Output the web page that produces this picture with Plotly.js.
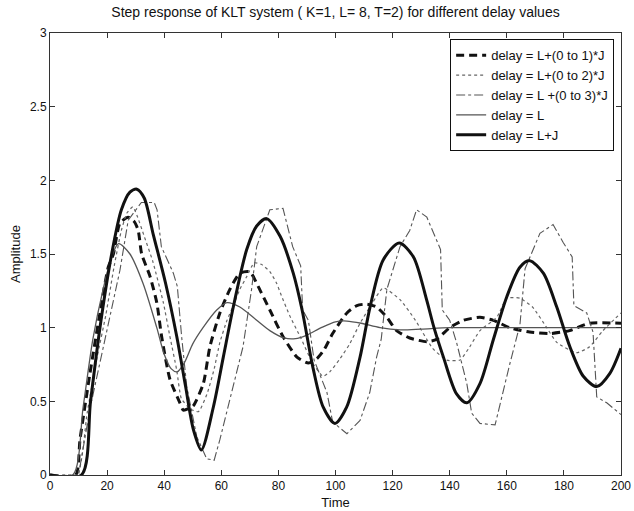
<!DOCTYPE html>
<html>
<head>
<meta charset="utf-8">
<script src="https://cdn.plot.ly/plotly-3.0.1.min.js"></script>
<style>html,body{margin:0;padding:0;background:#fff;}#chart{width:634px;height:511px;}</style>
</head>
<body>
<div id="chart"></div>
<script>
// Series names
var seriesNames = ["delay = L+(0 to 1)*J", "delay = L+(0 to 2)*J", "delay = L +(0 to 3)*J", "delay = L", "delay = L+J"];

// delay = L+(0 to 1)*J  (thick dashed)
var tD1 = [0, 9, 10.5, 14, 17.5, 20.4, 22.2, 24.5, 27.4, 29.5, 30.9, 32.1, 35, 37.4, 39.1, 42, 45.5, 46.7, 48.5, 50.2, 53.7, 56, 59.5, 63, 66.5, 70, 72.9, 77, 81.6, 86.5, 90.5, 93.5, 96, 99, 104, 107.5, 111, 114.4, 118, 121.4, 126, 132, 135.4, 140, 144.8, 150.6, 155.3, 161, 168, 175, 182, 189, 200];
var yD1 = [0, 0, 0.24, 0.69, 1.1, 1.41, 1.5, 1.71, 1.75, 1.72, 1.66, 1.5, 1.35, 1.17, 0.94, 0.65, 0.49, 0.44, 0.45, 0.47, 0.62, 0.87, 1.1, 1.26, 1.37, 1.38, 1.28, 1.12, 0.94, 0.8, 0.76, 0.79, 0.85, 0.96, 1.1, 1.15, 1.16, 1.14, 1.07, 0.98, 0.93, 0.905, 0.92, 1.0, 1.05, 1.07, 1.05, 1.0, 0.97, 0.96, 0.98, 1.03, 1.03];

// delay = L+(0 to 2)*J  (dotted)
var tD2 = [0, 9.5, 13, 16.5, 19.5, 22.5, 25, 27, 29, 30.5, 33, 36, 39.7, 42, 44.4, 46, 49, 52, 55, 57.5, 59.5, 62, 64, 66.5, 69, 71.5, 74, 77, 79.4, 81, 84, 87.6, 92, 95.6, 98, 101.6, 105, 108.6, 113, 116.7, 122.6, 128, 134, 139, 143.6, 147, 150.6, 156.5, 160, 164.6, 169, 174, 177.5, 184.5, 189, 193.7, 200];
var yD2 = [0, 0, 0.42, 0.8, 1.08, 1.42, 1.66, 1.78, 1.82, 1.76, 1.62, 1.45, 1.17, 0.94, 0.71, 0.52, 0.45, 0.43, 0.55, 0.72, 0.9, 1.05, 1.14, 1.26, 1.35, 1.44, 1.43, 1.38, 1.3, 1.22, 1.08, 0.94, 0.76, 0.67, 0.7, 0.79, 0.89, 1.03, 1.17, 1.27, 1.19, 1.05, 0.86, 0.78, 0.78, 0.87, 0.98, 1.07, 1.2, 1.2, 1.14, 1.0, 0.9, 0.83, 0.87, 0.98, 1.1];

// delay = L +(0 to 3)*J  (dash-dot)
var tD3 = [0, 10, 14, 18.7, 22.2, 24.5, 27.4, 32, 36.5, 37.5, 39, 43.2, 44.6, 46.1, 47.9, 51.4, 54.9, 57.5, 59.5, 64, 67.6, 70.6, 72.4, 77, 81.6, 85, 87.8, 88.5, 90.5, 92.5, 97, 99, 104, 108.6, 112, 114.4, 116, 118, 122.6, 126, 128.4, 132, 135.4, 136.8, 137.4, 140, 142.4, 146, 147.7, 150.6, 155.9, 157.6, 161, 164.6, 166.4, 171.6, 176.2, 179.7, 182.9, 183.5, 188, 190.2, 191.5, 195, 200];
var yD3 = [0, 0, 0.45, 0.87, 1.17, 1.39, 1.73, 1.85, 1.85, 1.8, 1.55, 1.37, 1.28, 0.94, 0.6, 0.26, 0.11, 0.1, 0.24, 0.58, 0.87, 1.26, 1.55, 1.8, 1.81, 1.55, 1.42, 1.12, 1.05, 0.78, 0.56, 0.36, 0.28, 0.37, 0.56, 0.8, 0.92, 1.26, 1.55, 1.66, 1.8, 1.75, 1.6, 1.53, 1.12, 1.05, 0.9, 0.62, 0.42, 0.35, 0.34, 0.48, 0.75, 1.02, 1.4, 1.64, 1.7, 1.58, 1.48, 1.15, 1.1, 0.97, 0.53, 0.49, 0.41];

// delay = L  (thin solid)
var tL = [0, 8, 11.6, 15, 18.6, 21.6, 24, 28, 32.6, 37.4, 40, 42.5, 44.5, 47, 50, 53.6, 58.4, 62, 66.5, 72.4, 77, 82, 86, 90, 95, 100, 104, 109, 115.6, 122.6, 130, 140, 160, 180, 200];
var yL = [0, 0, 0.46, 0.92, 1.26, 1.48, 1.57, 1.5, 1.3, 1.0, 0.82, 0.72, 0.7, 0.76, 0.89, 1.0, 1.12, 1.17, 1.14, 1.05, 0.98, 0.93, 0.925, 0.95, 1.0, 1.04, 1.045, 1.03, 1.0, 0.985, 0.99, 1.0, 1.0, 1.0, 1.0];

// delay = L+J  (thick solid)
var tLJ = [0, 11, 14.2, 17.5, 21.6, 25, 28, 30.4, 33, 36.2, 40.5, 44.4, 47.5, 50.2, 53, 57.2, 60.7, 64.2, 68.9, 72.4, 75.9, 80.6, 85.2, 88.3, 92.2, 95.7, 99.8, 103.9, 108.6, 112.1, 116.7, 122.3, 127.3, 131.9, 134.5, 137.8, 142.4, 146, 150.6, 155.3, 160, 164.6, 168, 172.8, 177.5, 182.1, 186.8, 191.5, 196.1, 200];
var yLJ = [0, 0, 0.5, 1.0, 1.5, 1.8, 1.92, 1.94, 1.88, 1.63, 1.3, 0.94, 0.6, 0.31, 0.17, 0.46, 0.8, 1.14, 1.53, 1.69, 1.74, 1.62, 1.37, 1.12, 0.72, 0.46, 0.35, 0.46, 0.8, 1.14, 1.46, 1.575, 1.48, 1.19, 1.0, 0.8, 0.55, 0.49, 0.62, 0.92, 1.21, 1.41, 1.455, 1.37, 1.14, 0.87, 0.67, 0.6, 0.69, 0.86];

// Axis ticks
var xTicks = [0, 20, 40, 60, 80, 100, 120, 140, 160, 180, 200];
var yTicks = [0, 0.5, 1, 1.5, 2, 2.5, 3];
var yTickText = ["0", "0.5", "1", "1.5", "2", "2.5", "3"];

var traces = [
  {x: tD1, y: yD1, name: seriesNames[0], mode: "lines", line: {color: "#111", width: 3, dash: "8px,5px", shape: "spline", smoothing: 0.6}},
  {x: tD2, y: yD2, name: seriesNames[1], mode: "lines", line: {color: "#666", width: 1.2, dash: "dot", shape: "spline", smoothing: 0.5}},
  {x: tD3, y: yD3, name: seriesNames[2], mode: "lines", line: {color: "#555", width: 1.1, dash: "dashdot", shape: "linear"}},
  {x: tL, y: yL, name: seriesNames[3], mode: "lines", line: {color: "#555", width: 1.3, shape: "spline", smoothing: 0.8}},
  {x: tLJ, y: yLJ, name: seriesNames[4], mode: "lines", line: {color: "#111", width: 3, shape: "spline", smoothing: 0.8}}
];

var fam = "Liberation Sans, Arial, sans-serif";
var axisFont = {family: fam, size: 12, color: "#111"};

var layout = {
  width: 634, height: 511,
  margin: {l: 50, r: 13, t: 33, b: 36},
  paper_bgcolor: "#fff", plot_bgcolor: "#fff",
  font: axisFont,
  title: {text: "Step response of KLT system ( K=1, L= 8, T=2) for different delay values", x: 0.5, xref: "paper", y: 0.976, yanchor: "middle", font: {family: fam, size: 14, color: "#111"}},
  xaxis: {range: [0, 200], tickvals: xTicks, ticks: "inside", ticklen: 5, tickcolor: "#333", showline: true, linecolor: "#333", linewidth: 1, mirror: "ticks", showgrid: false, zeroline: false, title: {text: "Time", font: {family: fam, size: 13, color: "#111"}, standoff: 5}, tickfont: axisFont},
  yaxis: {range: [0, 3], tickvals: yTicks, ticktext: yTickText, ticks: "inside", ticklen: 5, tickcolor: "#333", showline: true, linecolor: "#333", linewidth: 1, mirror: "ticks", showgrid: false, zeroline: false, title: {text: "Amplitude", font: {family: fam, size: 13, color: "#111"}, standoff: 6}, tickfont: axisFont},
  showlegend: true,
  legend: {x: 0.988, xanchor: "right", y: 0.986, yanchor: "top", bgcolor: "#fff", bordercolor: "#111", borderwidth: 1, font: {family: fam, size: 13, color: "#111"}, tracegroupgap: 0}
};

Plotly.newPlot("chart", traces, layout, {displayModeBar: false, staticPlot: true});
</script>
</body>
</html>
